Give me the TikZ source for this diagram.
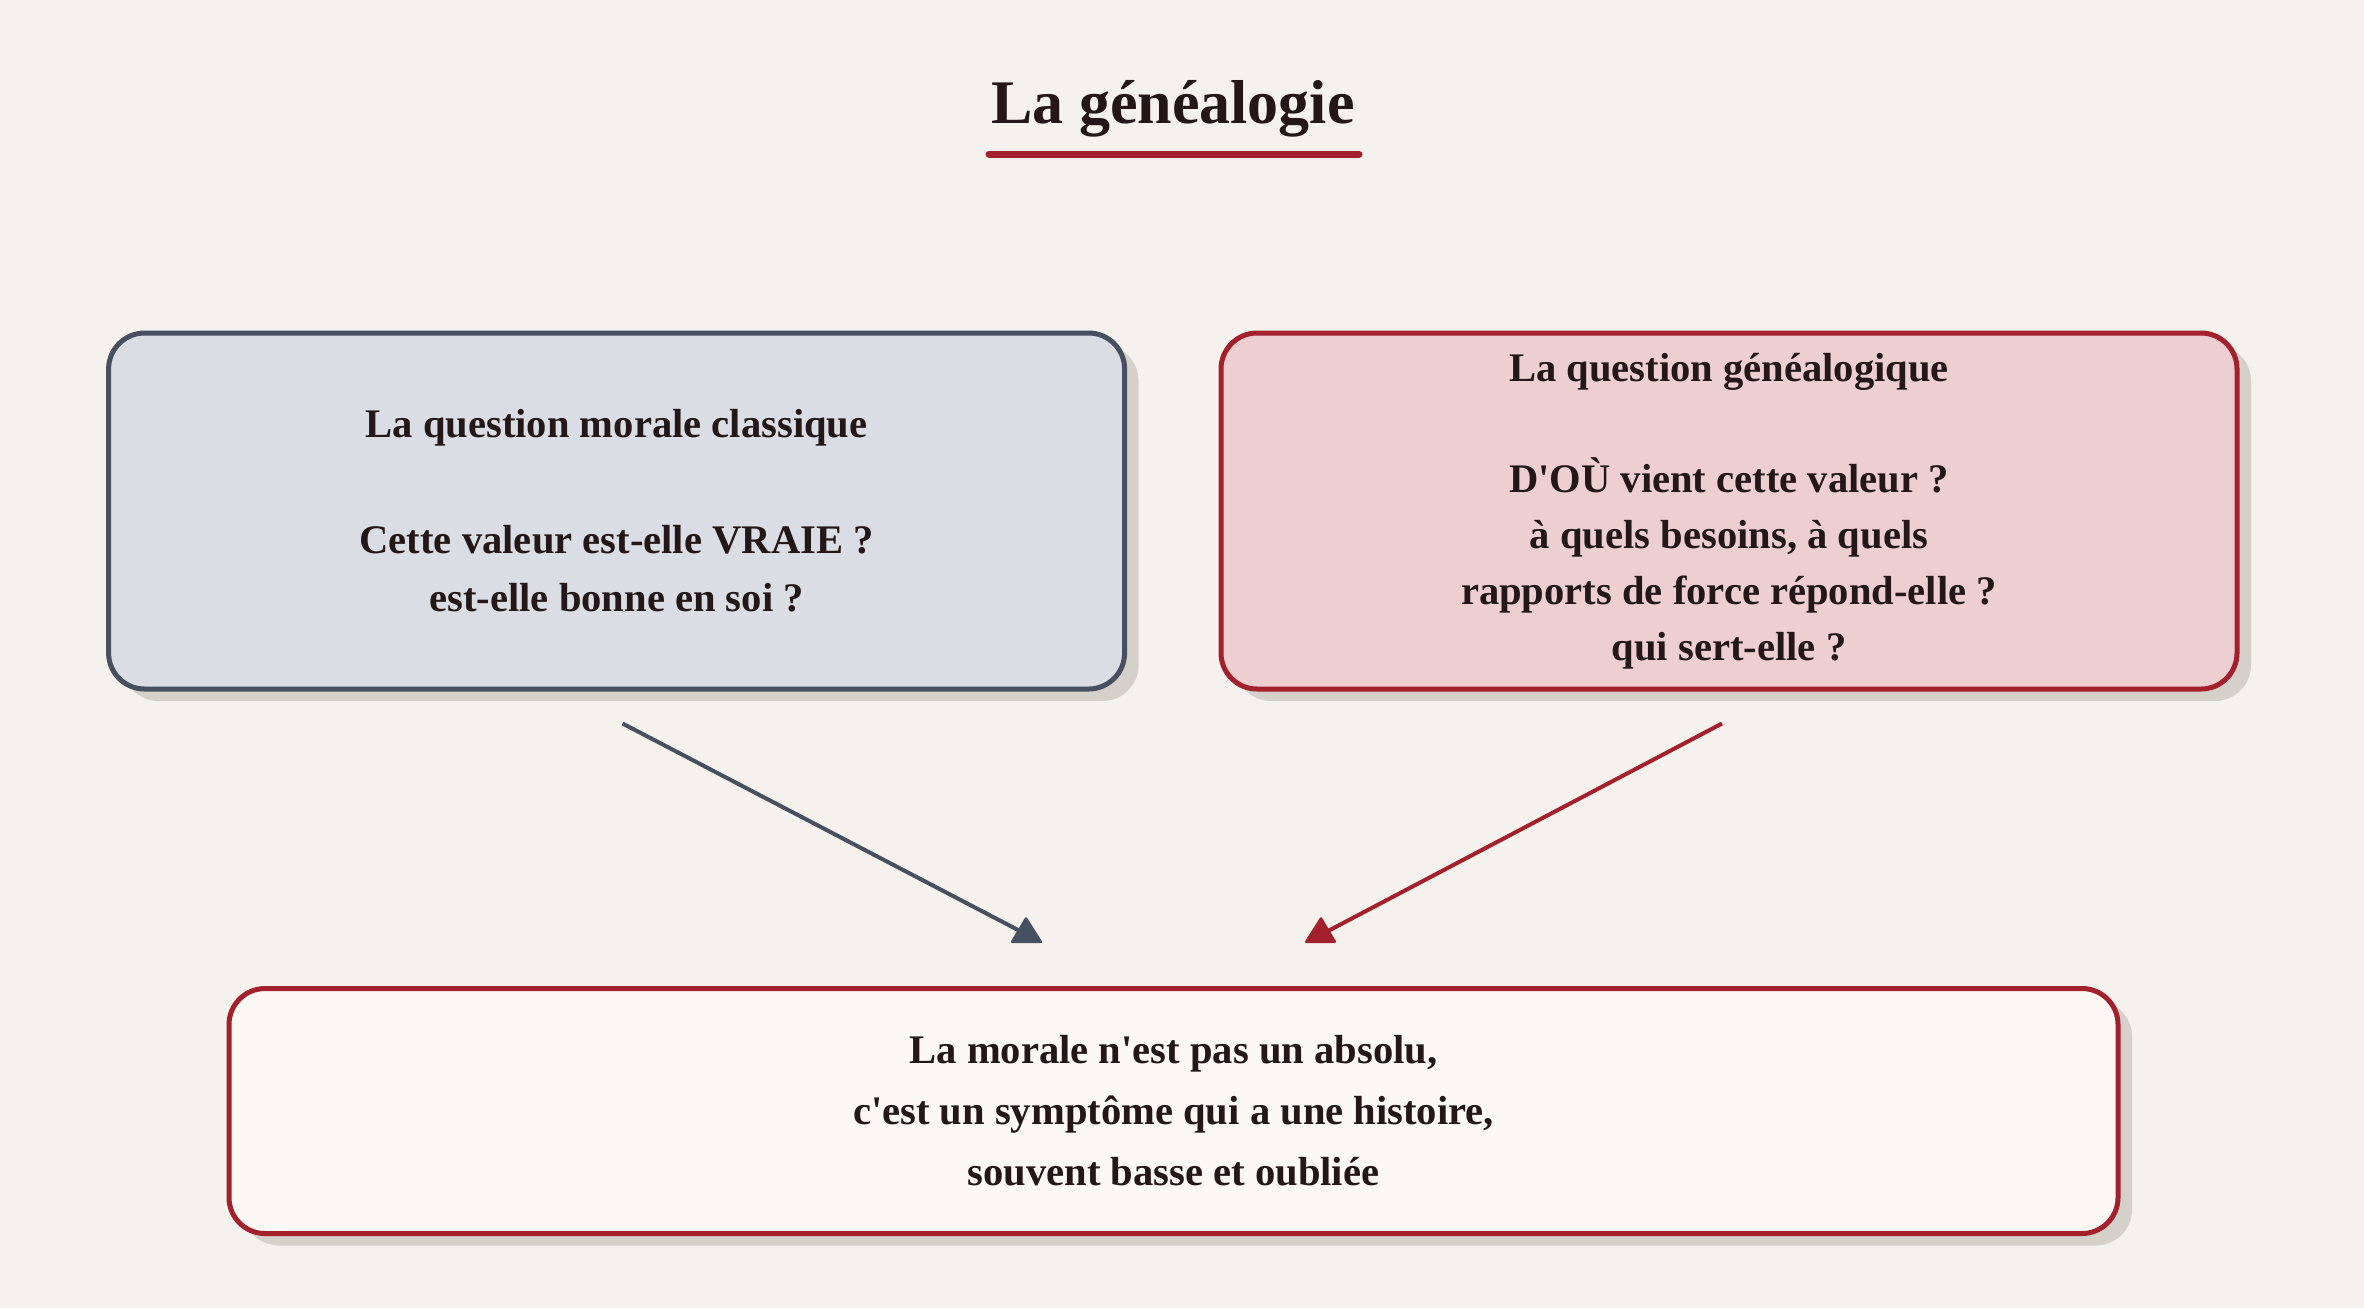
\documentclass[tikz,border=0pt]{standalone}
\usepackage{fontspec}
\setmainfont{Liberation Serif}[Ligatures=TeXOff]
\usetikzlibrary{shadows}
\definecolor{bgc}{HTML}{F5F1EC}
\definecolor{slatec}{HTML}{465061}
\definecolor{slatefill}{HTML}{DADDE3}
\definecolor{redc}{HTML}{A3212C}
\definecolor{redfill}{HTML}{EDCFD1}
\definecolor{lightfill}{HTML}{FCF8F4}
\definecolor{shadowc}{HTML}{D6D0CB}
\definecolor{txtc}{HTML}{231717}
\tikzset{
  box/.style={rounded corners=18pt, line width=2.5pt, align=center, text=txtc,
    inner sep=0pt,
    drop shadow={shadow xshift=7pt, shadow yshift=-6pt, fill=shadowc, opacity=1}},
  boxtext/.style={font=\bfseries\fontsize{20.3}{#1}\selectfont},
  conn/.style={line width=2pt},
}
\begin{document}
\begin{tikzpicture}[x=0.5pt,y=-0.5pt]
\fill[bgc] (0,0) rectangle (2364,1308);
\useasboundingbox (0,0) rectangle (2364,1308);

% title
\node[anchor=base, text=txtc, font=\bfseries\fontsize{31}{36}\selectfont] (title) at (1173,123) {La généalogie};
\draw[redc, line width=3.5pt, line cap=round] ([yshift=-15.5pt]title.base -| 989,0) coordinate (u1) -- ([yshift=-15.5pt]title.base -| 1359,0) coordinate (u2);

% boxes
\node[box, draw=slatec, fill=slatefill, minimum width=508pt, minimum height=178pt, boxtext=29pt] (L) at (616.6,511)
  {La question morale classique\\[29pt]Cette valeur est-elle VRAIE ?\\est-elle bonne en soi ?};
\node[box, draw=redc, fill=redfill, minimum width=508pt, minimum height=178pt, boxtext=28pt] (R) at (1729,511)
  {La question généalogique\\[27.5pt]D'OÙ vient cette valeur ?\\à quels besoins, à quels\\rapports de force répond-elle ?\\qui sert-elle ?};
\node[box, draw=redc, fill=lightfill, minimum width=944.5pt, minimum height=122.5pt, boxtext=30.5pt] (B) at (1173.5,1111)
  {La morale n'est pas un absolu,\\c'est un symptôme qui a une histoire,\\souvent basse et oubliée};

% connectors
\coordinate (ta) at (1020,931);
\coordinate (tb) at (1328,931);
\draw[conn, slatec] ([xshift=3pt,yshift=-16pt]L.south) -- (ta);
\draw[conn, redc] ([xshift=-3.5pt,yshift=-16pt]R.south) -- (tb);
\fill[slatec, rounded corners=1.2pt] (1010,943) -- (1026,916) -- (1043,943) -- cycle;
\fill[redc, rounded corners=1.2pt] (1304,943) -- (1321,916) -- (1337,943) -- cycle;
\end{tikzpicture}
\end{document}
